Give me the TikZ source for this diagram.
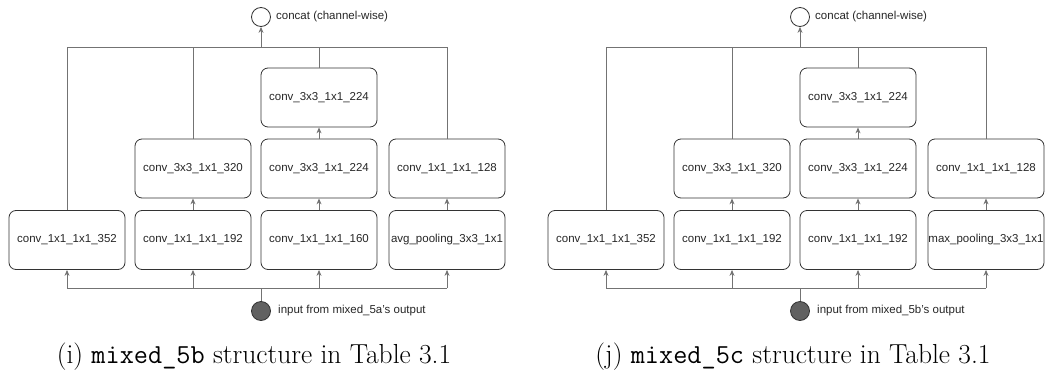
\documentclass[tikz,border=0pt]{standalone}
\usepackage{fontspec}
\setsansfont{Liberation Sans}
\usetikzlibrary{arrows.meta}
\tikzset{
 op/.style={draw=black!80, rounded corners=7pt, minimum width=116pt, minimum height=59pt, inner sep=0pt, font=\sffamily\fontsize{11.5}{13}\selectfont, text=black!85, line width=0.8pt},
 conn/.style={draw=black!55, line width=0.9pt},
 arr/.style={conn, -{Stealth[length=6pt,width=5pt]}},
 lbl/.style={font=\sffamily\fontsize{11.5}{13}\selectfont, anchor=west, inner sep=0pt, text=black!85},
 dotnode/.style={circle, draw=black!80, line width=0.8pt, minimum size=19pt, inner sep=0pt},
 captxt/.style={font=\fontsize{27.5}{33}\selectfont, anchor=base, inner sep=0pt},
}
\newcommand\mypanel[6]{%
\begin{scope}[xshift=#2]
 \node[dotnode] (#1c) at (261,17) {};
 \node[lbl] (#1cl) at (276,17) {concat (channel-wise)};
 \coordinate (#1tb) at (261,47);
 \coordinate (#1bb) at (261,288);
 \node[op] (#1p) at (67,240) {conv\_1x1\_1x1\_352};
 \node[op] (#1q3) at (193,240) {conv\_1x1\_1x1\_192};
 \node[op] (#1q2) at (193,168.5) {conv\_3x3\_1x1\_320};
 \node[op] (#1s3) at (319,240) {#3};
 \node[op] (#1s2) at (319,168.5) {conv\_3x3\_1x1\_224};
 \node[op] (#1s1) at (319,97.5) {conv\_3x3\_1x1\_224};
 \node[op] (#1t3) at (447,240) {#4};
 \node[op] (#1t2) at (447,168.5) {conv\_1x1\_1x1\_128};
 \node[dotnode, fill=black!62] (#1in) at (261,311) {};
 \node[lbl] (#1il) at (278,311) {#5};
 % top bus
 \draw[conn] (#1p.north) |- (#1t2.north |- #1tb) -- (#1t2.north);
 \draw[conn] (#1q2.north) -- (#1q2.north |- #1tb);
 \draw[conn] (#1s1.north) -- (#1s1.north |- #1tb);
 \draw[arr] (#1tb) -- (#1c);
 % inner arrows
 \draw[arr] (#1q3) -- (#1q2);
 \draw[arr] (#1s3) -- (#1s2);
 \draw[arr] (#1s2) -- (#1s1);
 \draw[arr] (#1t3) -- (#1t2);
 % bottom bus
 \draw[conn] (#1in) -- (#1bb);
 \draw[conn] (#1p.south |- #1bb) -- (#1t3.south |- #1bb);
 \draw[arr] (#1p.south |- #1bb) -- (#1p.south);
 \draw[arr] (#1q3.south |- #1bb) -- (#1q3.south);
 \draw[arr] (#1s3.south |- #1bb) -- (#1s3.south);
 \draw[arr] (#1t3.south |- #1bb) -- (#1t3.south);
 \node[captxt] (#1cap) at (254,363) {#6};
\end{scope}}
\begin{document}
\begin{tikzpicture}[x=1pt,y=-1pt]
 \useasboundingbox (0,0) rectangle (1046,372);
 \mypanel{L}{0pt}{conv\_1x1\_1x1\_160}{avg\_pooling\_3x3\_1x1}{input from mixed\_5a's output}{(i) \texttt{mixed\_5b} structure in Table 3.1}
 \mypanel{R}{539pt}{conv\_1x1\_1x1\_192}{max\_pooling\_3x3\_1x1}{input from mixed\_5b's output}{(j) \texttt{mixed\_5c} structure in Table 3.1}
\end{tikzpicture}
\end{document}
